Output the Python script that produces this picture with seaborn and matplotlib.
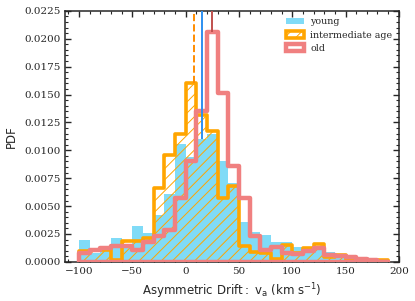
import numpy as np
import pandas as pd
import matplotlib as mpl
import matplotlib.pyplot as plt
import seaborn as sns

# binned PDFs, bins of 10 km/s from -100 to 190
bin_edges = np.arange(-100, 200, 10)
bin_centers = bin_edges[:-1] + 5

young = [0.0020, 0.0008, 0.0012, 0.0021, 0.0013, 0.0032, 0.0026, 0.0042, 0.0061, 0.0106,
         0.0094, 0.0110, 0.0115, 0.0090, 0.0071, 0.0036, 0.0027, 0.0024, 0.0018, 0.0018,
         0.0013, 0.0012, 0.0011, 0.0009, 0.0006, 0.0005, 0.0004, 0.0002, 0.0001]
intermediate = [0.0010, 0.0011, 0.0011, 0.0002, 0.0019, 0.0019, 0.0021, 0.0066, 0.0096, 0.0115,
                0.0160, 0.0132, 0.0117, 0.0057, 0.0068, 0.0014, 0.0009, 0.0008, 0.0003, 0.0015,
                0.0008, 0.0012, 0.0016, 0.0004, 0.0006, 0.0002, 0.0002, 0.0002, 0.0002]
old = [0.0008, 0.0011, 0.0012, 0.0014, 0.0014, 0.0011, 0.0018, 0.0023, 0.0029, 0.0057,
       0.0090, 0.0135, 0.0206, 0.0151, 0.0086, 0.0057, 0.0023, 0.0011, 0.0013, 0.0008,
       0.0007, 0.0010, 0.0012, 0.0006, 0.0005, 0.0004, 0.0003, 0.0002, 0.0000]

medians = {"young": 15.0, "intermediate age": 8.0, "old": 24.5}
labels = ["young", "intermediate age", "old"]

sns.set_style("ticks")
plt.rcParams["font.family"] = ["DejaVu Sans"]
plt.rcParams["mathtext.fontset"] = "dejavusans"
plt.rcParams["hatch.color"] = "orange"
plt.rcParams["hatch.linewidth"] = 0.7

fig = plt.figure(figsize=(4.15, 3.01), dpi=100)
ax = fig.add_axes([0.157, 0.13, 0.804, 0.834])

df = pd.DataFrame({"v": bin_centers, "young": young,
                   "intermediate": intermediate, "old": old})
hist_kw = dict(x="v", binwidth=10, binrange=(-100, 190), stat="count", ax=ax)

sns.histplot(data=df, weights="young", element="bars", color="#80dbf7", alpha=1,
             linewidth=0, label="young", zorder=1, **hist_kw)
sns.histplot(data=df, weights="intermediate", element="step", fill=True,
             color="orange", facecolor="none", edgecolor="orange", hatch="///",
             linewidth=2.6, label="intermediate age", zorder=2, **hist_kw)
sns.histplot(data=df, weights="old", element="step", fill=True, color="#f08080",
             facecolor="none", edgecolor="#f08080", linewidth=3.2, alpha=0.95,
             label="old", zorder=3, **hist_kw)

ymax = 0.0225
for name, vals, col, ls in [("intermediate age", intermediate, "darkorange", "--"),
                            ("young", young, "#2d8ff0", "-"),
                            ("old", old, "#c0504d", "-")]:
    m = medians[name]
    h = vals[np.searchsorted(bin_edges, m, side="right") - 1]
    ax.vlines(m, h, ymax, color=col, linestyle=ls, lw=1.4, zorder=4)

ax.set_xlim(-113, 200)
ax.set_ylim(0, ymax)
ax.xaxis.set_major_locator(mpl.ticker.MultipleLocator(50))
ax.xaxis.set_minor_locator(mpl.ticker.MultipleLocator(10))
ax.yaxis.set_major_locator(mpl.ticker.MultipleLocator(0.0025))
ax.yaxis.set_minor_locator(mpl.ticker.MultipleLocator(0.0005))
ax.yaxis.set_major_formatter(mpl.ticker.FormatStrFormatter("%0.4f"))
ax.tick_params(which="both", direction="in", top=True, right=True, labelsize=7.5)
ax.tick_params(which="major", length=4, width=1)
ax.tick_params(which="minor", length=2, width=0.8)
for lab in ax.get_xticklabels() + ax.get_yticklabels():
    lab.set_family("DejaVu Serif")
for s in ax.spines.values():
    s.set_linewidth(1.1)

ax.set_xlabel(r"$\mathrm{Asymmetric\ Drift:\ v_a}$ (km s$^{-1}$)", fontsize=8.5,
              family="DejaVu Sans")
ax.set_ylabel("PDF", fontsize=8.5, family="DejaVu Sans")

handles, labs = ax.get_legend_handles_labels()
order = [labs.index(l) for l in labels]
ax.legend([handles[i] for i in order], [labs[i] for i in order], loc="upper right",
          frameon=False, prop={"family": "DejaVu Serif", "size": 6.8},
          handlelength=2.0, handletextpad=0.6, borderaxespad=0.3, labelspacing=0.45)

fig.savefig("out.png", dpi=100)
